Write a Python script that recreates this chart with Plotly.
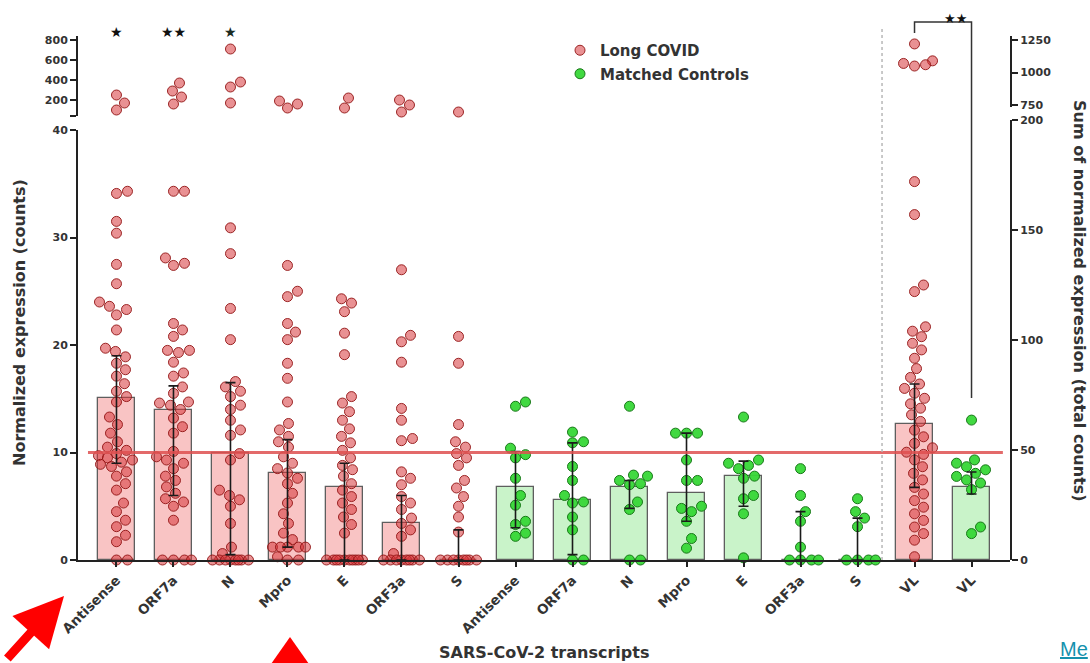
import plotly.graph_objects as go

# ---------------- data ----------------
categories = ["Antisense", "ORF7a", "N", "Mpro", "E", "ORF3a", "S"]
tick_labels = categories + categories + ["VL", "VL"]

# Long COVID, individual values (lower, <=40 counts)
lc_antisense = [34.3, 34.1, 31.5, 30.4, 27.5, 25.7, 24.0, 23.6, 23.3, 22.8, 21.4, 19.7, 19.4, 18.9,
                18.3, 17.7, 17.1, 16.4, 15.7, 15.2, 14.7, 13.3, 12.6, 11.8, 11.0, 10.5, 10.2, 9.9,
                9.7, 9.5, 9.3, 9.1, 8.9, 8.7, 8.2, 7.8, 7.1, 6.5, 5.3, 4.5, 3.7, 3.1, 2.3, 1.7, 0, 0]
lc_orf7a = [34.3, 34.3, 28.1, 27.6, 27.4, 22.0, 21.4, 20.8, 19.5, 19.5, 19.3, 18.4, 17.4, 17.1,
            16.1, 15.5, 14.7, 14.6, 14.4, 14.0, 13.2, 12.4, 11.8, 10.1, 9.6, 9.3, 9.0, 8.5, 7.8,
            7.4, 6.8, 6.2, 5.7, 5.4, 5.0, 3.7, 0, 0, 0, 0]
lc_n = [30.9, 28.5, 23.4, 20.5, 16.6, 16.1, 15.7, 15.2, 14.4, 14.0, 13.0, 12.1, 11.6, 9.9, 9.3,
        6.5, 6.0, 5.6, 5.0, 3.4, 1.2, 0.6, 0, 0, 0, 0, 0, 0, 0, 0]
lc_mpro = [27.4, 25.0, 24.5, 22.0, 21.2, 20.5, 18.3, 16.9, 14.7, 12.7, 12.1, 11.5, 11.0, 10.5,
           9.6, 9.0, 8.5, 8.1, 7.6, 7.1, 6.2, 5.3, 4.3, 3.4, 2.5, 1.9, 1.2, 1.2, 1.2, 1.2, 1.2,
           0.3, 0, 0]
lc_e = [24.3, 23.9, 23.1, 21.1, 19.1, 15.2, 14.6, 13.8, 13.0, 12.2, 11.5, 10.9, 10.2, 9.5, 8.8,
        8.4, 7.8, 7.1, 6.5, 5.9, 5.3, 4.7, 4.0, 3.3, 2.5, 0, 0, 0, 0, 0, 0, 0, 0, 0, 0]
lc_orf3a = [27.0, 20.9, 20.3, 18.4, 14.1, 13.0, 11.3, 11.1, 8.2, 7.6, 7.0, 5.9, 5.3, 4.7, 3.9, 3.4,
            2.8, 2.2, 0.6, 0, 0, 0, 0, 0, 0, 0, 0]
lc_s = [20.8, 18.3, 12.6, 11.0, 10.5, 9.9, 9.5, 8.8, 7.4, 6.7, 5.9, 5.0, 4.0, 2.6,
        0, 0, 0, 0, 0, 0, 0, 0]

# Long COVID, values on the broken (upper) part of the axis
lc_antisense_high = [250, 170, 100]
lc_orf7a_high = [370, 290, 230, 160]
lc_n_high = [710, 380, 330, 170]
lc_mpro_high = [190, 160, 120]
lc_e_high = [220, 120]
lc_orf3a_high = [200, 150, 80]
lc_s_high = [80]

# Matched controls
mc_antisense = [14.7, 14.3, 10.4, 9.8, 9.5, 7.6, 6.0, 5.1, 3.6, 3.3, 2.5, 2.2]
mc_orf7a = [11.9, 11.0, 10.9, 8.7, 7.4, 6.0, 5.4, 5.3, 4.0, 2.8, 0, 0]
mc_n = [14.3, 7.9, 7.8, 7.4, 7.1, 7.0, 5.4, 4.7, 0, 0]
mc_mpro = [11.8, 11.8, 11.8, 9.3, 7.4, 7.4, 5.0, 4.8, 4.5, 3.6, 2.0, 1.1]
mc_e = [13.3, 9.3, 9.0, 8.8, 8.5, 7.8, 7.6, 6.0, 5.7, 4.3, 0.2]
mc_orf3a = [8.5, 6.0, 4.5, 3.6, 1.2, 0, 0, 0, 0]
mc_s = [5.7, 4.5, 3.9, 3.1, 0, 0, 0, 0]

# Viral load (sum of normalized expression, right axis)
vl_lc = [172, 157, 125, 122, 106, 104, 101.5, 98.5, 95.5, 91.7, 87, 83, 80, 78, 75.8, 73.5, 71,
         69, 66, 63, 59, 56, 53, 51, 49, 48, 45.5, 42.4, 39.4, 36.4, 33, 30, 27, 24, 21, 18, 15,
         12, 9, 1.5]
vl_lc_high = [1220, 1090, 1070, 1060, 1050]
vl_mc = [63.6, 45.5, 44, 42.4, 41, 39.4, 38, 36.4, 35, 32, 15, 12]

# medians and interquartile ranges
lc_median = [15.1, 14.0, 10.0, 8.1, 6.8, 3.4, 0]
lc_q1 = [9.0, 6.0, 0.5, 1.2, 0, 0, 0]
lc_q3 = [19.0, 16.2, 16.5, 11.2, 9.0, 6.0, 2.8]
mc_median = [6.8, 5.6, 6.8, 6.2, 7.8, 0, 0]
mc_q1 = [3.0, 0.5, 4.8, 3.6, 5.0, 0, 0]
mc_q3 = [10.1, 10.9, 7.4, 11.8, 9.2, 4.5, 3.9]
vl_median = [62, 33]
vl_q1 = [33, 30]
vl_q3 = [80, 40]

threshold = 10
significance = ["★", "★★", "★"]

lc_low = [lc_antisense, lc_orf7a, lc_n, lc_mpro, lc_e, lc_orf3a, lc_s]
lc_high = [lc_antisense_high, lc_orf7a_high, lc_n_high, lc_mpro_high, lc_e_high,
           lc_orf3a_high, lc_s_high]
mc_low = [mc_antisense, mc_orf7a, mc_n, mc_mpro, mc_e, mc_orf3a, mc_s]

# ---------------- geometry ----------------
W, H = 1090, 663
ML, MR, MT, MB = 78, 80, 36, 103
PW, PH = W - ML - MR, H - MT - MB
BASE = H - MB
XR = [-0.675, 15.675]
PX_PER_X = PW / (XR[1] - XR[0])


def yf(py):
    return (BASE - py) / PH


def xf(px):
    return (px - ML) / PW


Y_LOW = [0, yf(130)]
Y_HIGH = [yf(116), 1]
Y3_LOW = [0, yf(120)]
Y4_HIGH = [yf(107), 1]
R_Y = [0, 40]
R_Y2 = [40, 840]
R_Y3 = [0, 200]
R_Y4 = [735, 1281]


def ppu(dom, rng):
    return (dom[1] - dom[0]) * PH / (rng[1] - rng[0])


def swarm(vals, pix_per_unit, diam=10.5, step=1.0, cap=18.0):
    placed = []
    offs = [0.0] * len(vals)
    order = sorted(range(len(vals)), key=lambda i: vals[i])
    for i in order:
        yp = vals[i] * pix_per_unit
        best, bestd = 0.0, -1
        chosen = None
        k = 0
        while k * step <= cap:
            cands = [0.0] if k == 0 else [k * step, -k * step]
            for c in cands:
                d = min([((c - px) ** 2 + (yp - py) ** 2) ** 0.5 for px, py in placed] or [1e9])
                if d >= diam:
                    chosen = c
                    break
                if d > bestd + 0.5:
                    best, bestd = c, d
            if chosen is not None:
                break
            k += 1
        if chosen is None:
            chosen = best
        placed.append((chosen, yp))
        offs[i] = chosen / PX_PER_X
    return offs


RED_FILL = "rgba(215,55,58,0.55)"
RED_LINE = "rgba(145,20,20,0.9)"
GREEN_FILL = "rgba(55,215,55,0.95)"
GREEN_LINE = "rgba(25,120,25,1)"
BAR_RED = "#f9c4c4"
BAR_GREEN = "#c9f3c9"
FONT = "DejaVu Sans, Verdana, sans-serif"
TXT = "#333"


def b(s):
    return f"<b>{s}</b>" if s else ""


fig = go.Figure()

# bars
fig.add_trace(go.Bar(x=list(range(7)), y=lc_median, width=0.66,
                     marker=dict(color=BAR_RED, line=dict(color="#5e5e5e", width=1.3)),
                     showlegend=False, xaxis="x", yaxis="y"))
fig.add_trace(go.Bar(x=list(range(7, 14)), y=mc_median, width=0.66,
                     marker=dict(color=BAR_GREEN, line=dict(color="#5e5e5e", width=1.3)),
                     showlegend=False, xaxis="x", yaxis="y"))
fig.add_trace(go.Bar(x=[14, 15], y=vl_median, width=0.66,
                     marker=dict(color=[BAR_RED, BAR_GREEN], line=dict(color="#5e5e5e", width=1.3)),
                     showlegend=False, xaxis="x", yaxis="y3"))


def add_points(xc, vals, axis, dom, rng, fill, line, name=None, legend=False, group=None):
    offs = swarm(vals, ppu(dom, rng))
    fig.add_trace(go.Scatter(
        x=[xc + o for o in offs], y=vals, mode="markers", yaxis=axis, xaxis="x",
        marker=dict(size=10, color=fill, line=dict(color=line, width=1)),
        cliponaxis=False, showlegend=legend, name=b(name) if name else None, legendgroup=group,
        hoverinfo="y"))


for i in range(7):
    add_points(i, lc_low[i], "y", Y_LOW, R_Y, RED_FILL, RED_LINE,
               name="Long COVID", legend=(i == 0), group="lc")
    add_points(i, lc_high[i], "y2", Y_HIGH, R_Y2, RED_FILL, RED_LINE)
    add_points(7 + i, mc_low[i], "y", Y_LOW, R_Y, GREEN_FILL, GREEN_LINE,
               name="Matched Controls", legend=(i == 0), group="mc")
add_points(14, vl_lc, "y3", Y3_LOW, R_Y3, RED_FILL, RED_LINE)
add_points(14, vl_lc_high, "y4", Y4_HIGH, R_Y4, RED_FILL, RED_LINE)
add_points(15, vl_mc, "y3", Y3_LOW, R_Y3, GREEN_FILL, GREEN_LINE)

# error bars (median with IQR)
ERR = dict(type="data", symmetric=False, color="#1a1a1a", thickness=1.6, width=5)
fig.add_trace(go.Scatter(
    x=list(range(14)), y=lc_median + mc_median, mode="markers",
    marker=dict(size=1, color="rgba(0,0,0,0)"), showlegend=False, hoverinfo="skip",
    error_y=dict(ERR, array=[q - m for q, m in zip(lc_q3 + mc_q3, lc_median + mc_median)],
                 arrayminus=[m - q for q, m in zip(lc_q1 + mc_q1, lc_median + mc_median)]),
    xaxis="x", yaxis="y", cliponaxis=False))
fig.add_trace(go.Scatter(
    x=[14, 15], y=vl_median, mode="markers",
    marker=dict(size=1, color="rgba(0,0,0,0)"), showlegend=False, hoverinfo="skip",
    error_y=dict(ERR, array=[q - m for q, m in zip(vl_q3, vl_median)],
                 arrayminus=[m - q for q, m in zip(vl_q1, vl_median)]),
    xaxis="x", yaxis="y3", cliponaxis=False))

AX = dict(showline=True, linecolor="#222", linewidth=2, ticks="outside", ticklen=6,
          tickwidth=1.6, tickcolor="#222", showgrid=False, zeroline=False,
          tickfont=dict(family=FONT, size=11, color=TXT))

fig.update_layout(
    width=W, height=H, margin=dict(l=ML, r=MR, t=MT, b=MB),
    paper_bgcolor="white", plot_bgcolor="rgba(0,0,0,0)",
    barmode="overlay", bargap=0,
    font=dict(family=FONT, color=TXT),
    xaxis=dict(AX, range=XR, tickvals=list(range(16)), ticktext=[b(t) for t in tick_labels],
               tickangle=-45, anchor="y", ticklen=5, tickfont=dict(family=FONT, size=13.5, color=TXT)),
    yaxis=dict(AX, domain=Y_LOW, range=R_Y, tickvals=[0, 10, 20, 30, 40],
               ticktext=[b(v) for v in ["0", "10", "20", "30", "40"]], anchor="x"),
    yaxis2=dict(AX, domain=Y_HIGH, range=R_Y2, tickvals=[40, 200, 400, 600, 800],
                ticktext=[b(v) for v in ["", "200", "400", "600", "800"]], anchor="x"),
    yaxis3=dict(AX, domain=Y3_LOW, range=R_Y3, side="right", tickvals=[0, 50, 100, 150, 200],
                ticktext=[b(v) for v in ["0", "50", "100", "150", "200"]], anchor="x"),
    yaxis4=dict(AX, domain=Y4_HIGH, range=R_Y4, side="right", tickvals=[750, 1000, 1250],
                ticktext=[b(v) for v in ["750", "1000", "1250"]], anchor="x"),
    legend=dict(x=xf(560), y=yf(34), xanchor="left", yanchor="top", bgcolor="rgba(0,0,0,0)",
                font=dict(family=FONT, size=15, color=TXT), tracegroupgap=1,
                traceorder="grouped"),
)

shapes = []
# threshold line
shapes.append(dict(type="line", xref="x", yref="y", x0=-0.5, x1=15.55, y0=threshold, y1=threshold,
                   line=dict(color="rgba(222,80,80,0.85)", width=3), layer="above"))
# dotted separator before VL
shapes.append(dict(type="line", xref="x", yref="paper", x0=13.43, x1=13.43, y0=0, y1=yf(27),
                   line=dict(color="#b8b8b8", width=1.5, dash="dot")))
# significance bracket for VL
shapes.append(dict(type="path", xref="x", yref="paper",
                   path=f"M 14,{yf(33)} L 14,{yf(22)} L 15,{yf(22)} L 15,{yf(398)}",
                   line=dict(color="#333", width=1.5)))
# red triangle marker (screenshot overlay)
shapes.append(dict(type="path", xref="paper", yref="paper",
                   path=f"M {xf(290)},{yf(637)} L {xf(309)},{yf(664)} L {xf(271)},{yf(664)} Z",
                   fillcolor="#ff0000", line=dict(width=0)))
fig.update_layout(shapes=shapes)

ann = []
for i, s in enumerate(significance):
    ann.append(dict(x=i, y=yf(32), xref="x", yref="paper", text=s, showarrow=False,
                    xanchor="center", yanchor="middle",
                    font=dict(size=14, color="#1b2b22" if i == 2 else "#111")))
ann.append(dict(x=14.72, y=yf(18), xref="x", yref="paper", text="★★", showarrow=False,
                xanchor="center", yanchor="middle", font=dict(size=13, color="#111")))
ann.append(dict(x=xf(20), y=yf(323), xref="paper", yref="paper", text=b("Normalized expression (counts)"),
                xanchor="center", yanchor="middle",
                textangle=-90, showarrow=False, font=dict(family=FONT, size=16, color=TXT)))
ann.append(dict(x=xf(1080), y=yf(301), xref="paper", yref="paper",
                text=b("Sum of normalized expression (total counts)"), xanchor="center", yanchor="middle",
                textangle=90, showarrow=False, font=dict(family=FONT, size=16, color=TXT)))
ann.append(dict(x=xf(544), y=yf(652), xref="paper", yref="paper", text=b("SARS-CoV-2 transcripts"),
                xanchor="center", yanchor="middle",
                showarrow=False, font=dict(family=FONT, size=16, color=TXT)))
# red arrow overlay
ann.append(dict(x=xf(64), y=yf(596), xref="paper", yref="paper", ax=-58, ay=64, text="",
                showarrow=True, arrowhead=2, arrowsize=1.1, arrowwidth=9, arrowcolor="#ff0000"))
# link text overlay
ann.append(dict(x=xf(1058), y=yf(649), xref="paper", yref="paper", text="<u>Me</u>",
                xanchor="left", yanchor="middle",
                showarrow=False, font=dict(family="Liberation Sans, Arial", size=20, color="#1591ad")))
fig.update_layout(annotations=ann)

fig.write_html("out.html")
